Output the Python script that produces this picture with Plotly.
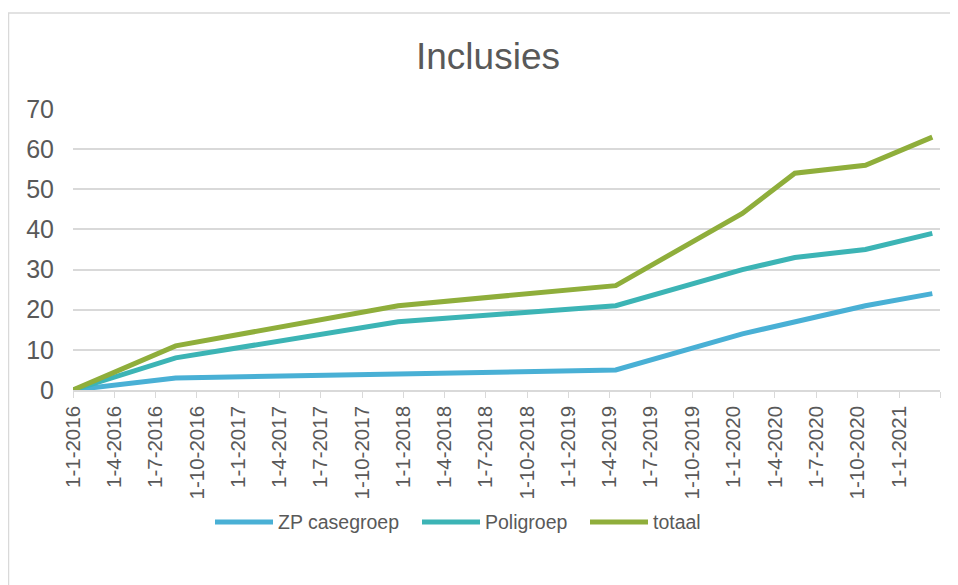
import plotly.graph_objects as go

# ---- data ----
dates = ["2016-01-01", "2016-08-15", "2017-12-20", "2019-04-15",
         "2020-01-20", "2020-05-15", "2020-10-18", "2021-03-15"]
zp_casegroep = [0, 3, 4, 5, 14, 17, 21, 24]
poligroep = [0, 8, 17, 21, 30, 33, 35, 39]
totaal = [0, 11, 21, 26, 44, 54, 56, 63]

series_names = ["ZP casegroep", "Poligroep", "totaal"]

tick_dates = ["2016-01-01", "2016-04-01", "2016-07-01", "2016-10-01",
              "2017-01-01", "2017-04-01", "2017-07-01", "2017-10-01",
              "2018-01-01", "2018-04-01", "2018-07-01", "2018-10-01",
              "2019-01-01", "2019-04-01", "2019-07-01", "2019-10-01",
              "2020-01-01", "2020-04-01", "2020-07-01", "2020-10-01",
              "2021-01-01", "2021-04-01"]
tick_labels = ["1-1-2016", "1-4-2016", "1-7-2016", "1-10-2016",
               "1-1-2017", "1-4-2017", "1-7-2017", "1-10-2017",
               "1-1-2018", "1-4-2018", "1-7-2018", "1-10-2018",
               "1-1-2019", "1-4-2019", "1-7-2019", "1-10-2019",
               "1-1-2020", "1-4-2020", "1-7-2020", "1-10-2020",
               "1-1-2021", ""]

colors = ["#49B0D5", "#3CB4B5", "#8FAE3B"]
FONT = "Liberation Sans, Arial, sans-serif"
TXT = "#595959"
GRID = "#D9D9D9"

OFF = 8  # page body margin
W, H = 958 - OFF, 585 - OFF
# plot area in page pixels
PL, PR, PT, PB = 73, 940, 109, 390
ML, MR, MT, MB = PL - OFF, W - (PR - OFF), PT - OFF, H - (PB - OFF)
PW = PR - PL
PH = PB - PT


def px(x):
    return (x - PL) / PW


def py(y):
    return (PB - y) / PH


fig = go.Figure()
for name, vals, col in zip(series_names, [zp_casegroep, poligroep, totaal], colors):
    fig.add_trace(go.Scatter(x=dates, y=vals, name=name, mode="lines",
                             line=dict(color=col, width=5), showlegend=False))

# custom legend (long line keys as in reference)
legend_pos = [(215, 273), (422, 480), (590, 648)]
shapes = []
annotations = []
ly = 522
for (x0, x1), name, col in zip(legend_pos, series_names, colors):
    shapes.append(dict(type="line", xref="paper", yref="paper",
                       x0=px(x0), x1=px(x1), y0=py(ly), y1=py(ly),
                       line=dict(color=col, width=5)))
    annotations.append(dict(xref="paper", yref="paper", x=px(x1 + 3), y=py(ly),
                            text=name, showarrow=False, xanchor="left",
                            yanchor="middle",
                            font=dict(family=FONT, size=19.5, color=TXT)))

# chart border
shapes.append(dict(type="rect", xref="paper", yref="paper",
                   x0=px(8.5), x1=px(1000), y0=py(13), y1=py(700),
                   line=dict(color=GRID, width=1.5), fillcolor="rgba(0,0,0,0)",
                   layer="below"))

fig.update_layout(
    width=W, height=H,
    margin=dict(l=ML, r=MR, t=MT, b=MB),
    paper_bgcolor="white", plot_bgcolor="white",
    title=dict(text="Inclusies", x=(488 - OFF) / W, xref="container",
               xanchor="center", y=1 - (56 - OFF) / H, yref="container",
               yanchor="middle",
               font=dict(family=FONT, size=37, color=TXT)),
    font=dict(family=FONT, color=TXT),
    shapes=shapes,
    annotations=annotations,
    showlegend=False,
)
fig.update_xaxes(type="date", range=["2016-01-01", "2021-04-01"],
                 tickmode="array", tickvals=tick_dates, ticktext=tick_labels,
                 tickangle=-90, tickfont=dict(family=FONT, size=20.5, color=TXT),
                 showgrid=False, showline=True, linecolor=GRID, linewidth=1.5,
                 ticks="outside", ticklen=6, tickcolor=GRID, zeroline=False)
fig.update_yaxes(range=[0, 70], dtick=10, showgrid=True, gridcolor=GRID,
                 gridwidth=1.5, zeroline=False, showline=False,
                 tickfont=dict(family=FONT, size=25, color=TXT),
                 ticklabelstandoff=18)

fig.write_html("out.html")
